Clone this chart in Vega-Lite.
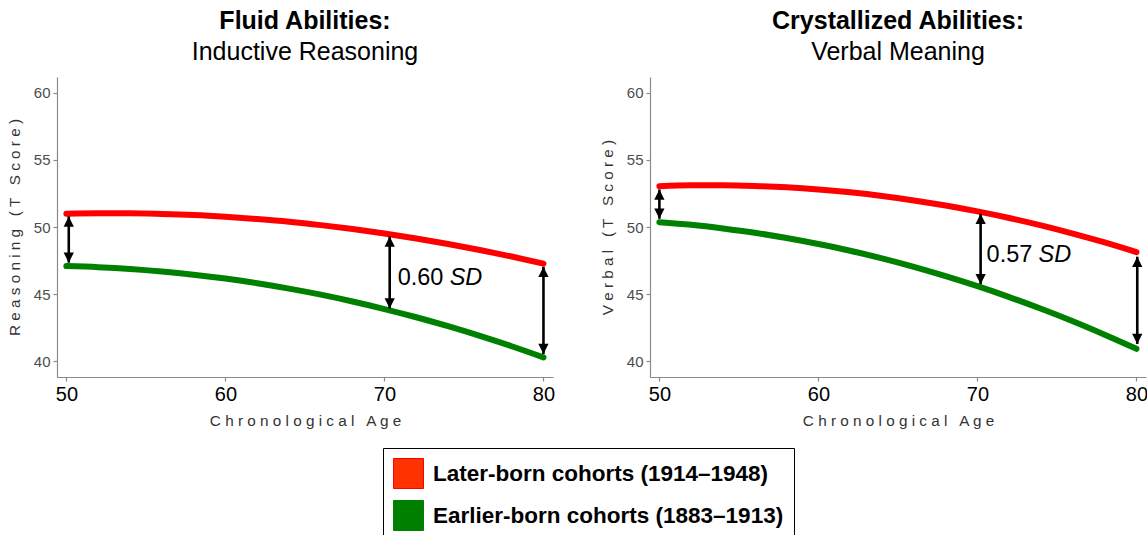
{
  "$schema": "https://vega.github.io/schema/vega-lite/v6.json",
  "background": "white",
  "padding": {"left": 7, "top": 9, "right": 0, "bottom": 0},
  "config": {
    "font": "Liberation Sans",
    "view": {"stroke": null},
    "title": {"font": "Liberation Sans", "fontSize": 25, "fontWeight": "bold", "color": "black", "subtitleFont": "Liberation Sans", "subtitleFontSize": 25, "subtitleColor": "black", "anchor": "middle", "offset": 12, "subtitlePadding": 6},
    "axis": {"grid": false, "domainColor": "#8a8a8a", "tickColor": "#8a8a8a", "tickSize": 4, "domainWidth": 1.2, "tickWidth": 1.2, "labelPadding": 3, "titleFontWeight": "normal", "titleFontSize": 15.3, "titleColor": "#333333", "labelFont": "Liberation Sans", "titleFont": "Liberation Sans"},
    "axisX": {"labelFontSize": 20, "labelColor": "black", "titlePadding": 9},
    "axisY": {"labelFontSize": 15, "labelColor": "#4d4d4d", "titlePadding": 11},
    "legend": {"orient": "none", "legendX": 326, "legendY": 371, "title": null, "symbolType": "square", "symbolSize": 900, "labelFontSize": 22.5, "labelFontWeight": "bold", "labelColor": "black", "labelLimit": 0, "labelOffset": 9, "rowPadding": 7, "padding": 10, "strokeColor": "black", "fillColor": "white", "cornerRadius": 0}
  },
  "datasets": {
    "fluidCurves": [
      {"age": 50, "score": 51.00, "cohort": "Later-born cohorts (1914–1948)"},
      {"age": 52, "score": 51.03, "cohort": "Later-born cohorts (1914–1948)"},
      {"age": 54, "score": 51.03, "cohort": "Later-born cohorts (1914–1948)"},
      {"age": 56, "score": 50.98, "cohort": "Later-born cohorts (1914–1948)"},
      {"age": 58, "score": 50.90, "cohort": "Later-born cohorts (1914–1948)"},
      {"age": 60, "score": 50.77, "cohort": "Later-born cohorts (1914–1948)"},
      {"age": 62, "score": 50.60, "cohort": "Later-born cohorts (1914–1948)"},
      {"age": 64, "score": 50.40, "cohort": "Later-born cohorts (1914–1948)"},
      {"age": 66, "score": 50.15, "cohort": "Later-born cohorts (1914–1948)"},
      {"age": 68, "score": 49.86, "cohort": "Later-born cohorts (1914–1948)"},
      {"age": 70, "score": 49.53, "cohort": "Later-born cohorts (1914–1948)"},
      {"age": 72, "score": 49.16, "cohort": "Later-born cohorts (1914–1948)"},
      {"age": 74, "score": 48.75, "cohort": "Later-born cohorts (1914–1948)"},
      {"age": 76, "score": 48.30, "cohort": "Later-born cohorts (1914–1948)"},
      {"age": 78, "score": 47.81, "cohort": "Later-born cohorts (1914–1948)"},
      {"age": 80, "score": 47.28, "cohort": "Later-born cohorts (1914–1948)"},
      {"age": 50, "score": 47.10, "cohort": "Earlier-born cohorts (1883–1913)"},
      {"age": 52, "score": 47.02, "cohort": "Earlier-born cohorts (1883–1913)"},
      {"age": 54, "score": 46.89, "cohort": "Earlier-born cohorts (1883–1913)"},
      {"age": 56, "score": 46.70, "cohort": "Earlier-born cohorts (1883–1913)"},
      {"age": 58, "score": 46.46, "cohort": "Earlier-born cohorts (1883–1913)"},
      {"age": 60, "score": 46.17, "cohort": "Earlier-born cohorts (1883–1913)"},
      {"age": 62, "score": 45.82, "cohort": "Earlier-born cohorts (1883–1913)"},
      {"age": 64, "score": 45.42, "cohort": "Earlier-born cohorts (1883–1913)"},
      {"age": 66, "score": 44.97, "cohort": "Earlier-born cohorts (1883–1913)"},
      {"age": 68, "score": 44.46, "cohort": "Earlier-born cohorts (1883–1913)"},
      {"age": 70, "score": 43.90, "cohort": "Earlier-born cohorts (1883–1913)"},
      {"age": 72, "score": 43.29, "cohort": "Earlier-born cohorts (1883–1913)"},
      {"age": 74, "score": 42.62, "cohort": "Earlier-born cohorts (1883–1913)"},
      {"age": 76, "score": 41.90, "cohort": "Earlier-born cohorts (1883–1913)"},
      {"age": 78, "score": 41.13, "cohort": "Earlier-born cohorts (1883–1913)"},
      {"age": 80, "score": 40.30, "cohort": "Earlier-born cohorts (1883–1913)"}
    ],
    "verbalCurves": [
      {"age": 50, "score": 53.05, "cohort": "Later-born cohorts (1914–1948)"},
      {"age": 52, "score": 53.11, "cohort": "Later-born cohorts (1914–1948)"},
      {"age": 54, "score": 53.12, "cohort": "Later-born cohorts (1914–1948)"},
      {"age": 56, "score": 53.07, "cohort": "Later-born cohorts (1914–1948)"},
      {"age": 58, "score": 52.97, "cohort": "Later-born cohorts (1914–1948)"},
      {"age": 60, "score": 52.81, "cohort": "Later-born cohorts (1914–1948)"},
      {"age": 62, "score": 52.59, "cohort": "Later-born cohorts (1914–1948)"},
      {"age": 64, "score": 52.32, "cohort": "Later-born cohorts (1914–1948)"},
      {"age": 66, "score": 51.99, "cohort": "Later-born cohorts (1914–1948)"},
      {"age": 68, "score": 51.61, "cohort": "Later-born cohorts (1914–1948)"},
      {"age": 70, "score": 51.17, "cohort": "Later-born cohorts (1914–1948)"},
      {"age": 72, "score": 50.68, "cohort": "Later-born cohorts (1914–1948)"},
      {"age": 74, "score": 50.13, "cohort": "Later-born cohorts (1914–1948)"},
      {"age": 76, "score": 49.52, "cohort": "Later-born cohorts (1914–1948)"},
      {"age": 78, "score": 48.86, "cohort": "Later-born cohorts (1914–1948)"},
      {"age": 80, "score": 48.14, "cohort": "Later-born cohorts (1914–1948)"},
      {"age": 50, "score": 50.37, "cohort": "Earlier-born cohorts (1883–1913)"},
      {"age": 52, "score": 50.17, "cohort": "Earlier-born cohorts (1883–1913)"},
      {"age": 54, "score": 49.90, "cohort": "Earlier-born cohorts (1883–1913)"},
      {"age": 56, "score": 49.58, "cohort": "Earlier-born cohorts (1883–1913)"},
      {"age": 58, "score": 49.19, "cohort": "Earlier-born cohorts (1883–1913)"},
      {"age": 60, "score": 48.74, "cohort": "Earlier-born cohorts (1883–1913)"},
      {"age": 62, "score": 48.24, "cohort": "Earlier-born cohorts (1883–1913)"},
      {"age": 64, "score": 47.67, "cohort": "Earlier-born cohorts (1883–1913)"},
      {"age": 66, "score": 47.04, "cohort": "Earlier-born cohorts (1883–1913)"},
      {"age": 68, "score": 46.35, "cohort": "Earlier-born cohorts (1883–1913)"},
      {"age": 70, "score": 45.60, "cohort": "Earlier-born cohorts (1883–1913)"},
      {"age": 72, "score": 44.79, "cohort": "Earlier-born cohorts (1883–1913)"},
      {"age": 74, "score": 43.92, "cohort": "Earlier-born cohorts (1883–1913)"},
      {"age": 76, "score": 42.99, "cohort": "Earlier-born cohorts (1883–1913)"},
      {"age": 78, "score": 41.99, "cohort": "Earlier-born cohorts (1883–1913)"},
      {"age": 80, "score": 40.94, "cohort": "Earlier-born cohorts (1883–1913)"}
    ],
    "fluidArrows": [
      {"age": 50.15, "top": 50.8, "bottom": 47.35},
      {"age": 70.33, "top": 49.3, "bottom": 43.95},
      {"age": 80.0, "top": 47.05, "bottom": 40.55}
    ],
    "verbalArrows": [
      {"age": 50.0, "top": 52.8, "bottom": 50.62},
      {"age": 70.2, "top": 51.0, "bottom": 45.75},
      {"age": 80.05, "top": 47.8, "bottom": 41.3}
    ],
    "fluidLabel": [{"age": 70.33, "score": 46.24, "value": "0.60", "unit": "SD"}],
    "verbalLabel": [{"age": 70.2, "score": 47.9, "value": "0.57", "unit": "SD"}]
  },
  "resolve": {"scale": {"color": "shared"}, "legend": {"color": "shared"}},
  "spacing": 44,
  "hconcat": [
    {
      "width": 496,
      "height": 300,
      "title": {"text": "Fluid Abilities:", "subtitle": "Inductive Reasoning"},
      "layer": [
        {
          "data": {"name": "fluidCurves"},
          "mark": {"type": "line", "strokeWidth": 6, "strokeCap": "round", "interpolate": "monotone"},
          "encoding": {
            "x": {"field": "age", "type": "quantitative", "scale": {"domain": [49.41, 80.6], "nice": false, "zero": false}, "axis": {"values": [50, 60, 70, 80], "title": "C h r o n o l o g i c a l \u00a0 A g e"}},
            "y": {"field": "score", "type": "quantitative", "scale": {"domain": [38.84, 61.18], "nice": false, "zero": false}, "axis": {"values": [40, 45, 50, 55, 60], "title": "R e a s o n i n g \u00a0 ( T \u00a0 S c o r e )"}},
            "color": {"field": "cohort", "type": "nominal", "sort": null,
              "scale": {"domain": ["Later-born cohorts (1914–1948)", "Earlier-born cohorts (1883–1913)"], "range": ["#ff0000", "#008000"]},
              "legend": {"encode": {"symbols": {"update": {"fill": {"signal": "indexof(datum.value, 'Later') === 0 ? '#ff3300' : '#008000'"}, "fillOpacity": {"value": 1}, "stroke": {"value": "black"}, "strokeWidth": {"value": 1}, "opacity": {"value": 1}}}}}}
          }
        },
        {
          "data": {"name": "fluidArrows"},
          "mark": {"type": "rule", "color": "black", "strokeWidth": 2.6},
          "encoding": {
            "x": {"field": "age", "type": "quantitative"},
            "y": {"field": "top", "type": "quantitative"},
            "y2": {"field": "bottom"}
          }
        },
        {
          "data": {"name": "fluidArrows"},
          "mark": {"type": "point", "shape": "M0,0L-0.5,1L0.5,1Z", "size": 420, "filled": true, "color": "black", "opacity": 1},
          "encoding": {
            "x": {"field": "age", "type": "quantitative"},
            "y": {"field": "top", "type": "quantitative"}
          }
        },
        {
          "data": {"name": "fluidArrows"},
          "mark": {"type": "point", "shape": "M0,0L-0.5,-1L0.5,-1Z", "size": 420, "filled": true, "color": "black", "opacity": 1},
          "encoding": {
            "x": {"field": "age", "type": "quantitative"},
            "y": {"field": "bottom", "type": "quantitative"}
          }
        },
        {
          "data": {"name": "fluidLabel"},
          "mark": {"type": "text", "align": "left", "baseline": "middle", "fontSize": 23.5, "dx": 8, "color": "black"},
          "encoding": {
            "x": {"field": "age", "type": "quantitative"},
            "y": {"field": "score", "type": "quantitative"},
            "text": {"field": "value"}
          }
        },
        {
          "data": {"name": "fluidLabel"},
          "mark": {"type": "text", "align": "left", "baseline": "middle", "fontSize": 23.5, "fontStyle": "italic", "dx": 60, "color": "black"},
          "encoding": {
            "x": {"field": "age", "type": "quantitative"},
            "y": {"field": "score", "type": "quantitative"},
            "text": {"field": "unit"}
          }
        }
      ]
    },
    {
      "width": 496,
      "height": 300,
      "title": {"text": "Crystallized Abilities:", "subtitle": "Verbal Meaning"},
      "layer": [
        {
          "data": {"name": "verbalCurves"},
          "mark": {"type": "line", "strokeWidth": 6, "strokeCap": "round", "interpolate": "monotone"},
          "encoding": {
            "x": {"field": "age", "type": "quantitative", "scale": {"domain": [49.41, 80.6], "nice": false, "zero": false}, "axis": {"values": [50, 60, 70, 80], "title": "C h r o n o l o g i c a l \u00a0 A g e"}},
            "y": {"field": "score", "type": "quantitative", "scale": {"domain": [38.84, 61.18], "nice": false, "zero": false}, "axis": {"values": [40, 45, 50, 55, 60], "title": "V e r b a l \u00a0 ( T \u00a0 S c o r e )"}},
            "color": {"field": "cohort", "type": "nominal", "sort": null,
              "scale": {"domain": ["Later-born cohorts (1914–1948)", "Earlier-born cohorts (1883–1913)"], "range": ["#ff0000", "#008000"]},
              "legend": {"encode": {"symbols": {"update": {"fill": {"signal": "indexof(datum.value, 'Later') === 0 ? '#ff3300' : '#008000'"}, "fillOpacity": {"value": 1}, "stroke": {"value": "black"}, "strokeWidth": {"value": 1}, "opacity": {"value": 1}}}}}}
          }
        },
        {
          "data": {"name": "verbalArrows"},
          "mark": {"type": "rule", "color": "black", "strokeWidth": 2.6},
          "encoding": {
            "x": {"field": "age", "type": "quantitative"},
            "y": {"field": "top", "type": "quantitative"},
            "y2": {"field": "bottom"}
          }
        },
        {
          "data": {"name": "verbalArrows"},
          "mark": {"type": "point", "shape": "M0,0L-0.5,1L0.5,1Z", "size": 420, "filled": true, "color": "black", "opacity": 1},
          "encoding": {
            "x": {"field": "age", "type": "quantitative"},
            "y": {"field": "top", "type": "quantitative"}
          }
        },
        {
          "data": {"name": "verbalArrows"},
          "mark": {"type": "point", "shape": "M0,0L-0.5,-1L0.5,-1Z", "size": 420, "filled": true, "color": "black", "opacity": 1},
          "encoding": {
            "x": {"field": "age", "type": "quantitative"},
            "y": {"field": "bottom", "type": "quantitative"}
          }
        },
        {
          "data": {"name": "verbalLabel"},
          "mark": {"type": "text", "align": "left", "baseline": "middle", "fontSize": 23.5, "dx": 6, "color": "black"},
          "encoding": {
            "x": {"field": "age", "type": "quantitative"},
            "y": {"field": "score", "type": "quantitative"},
            "text": {"field": "value"}
          }
        },
        {
          "data": {"name": "verbalLabel"},
          "mark": {"type": "text", "align": "left", "baseline": "middle", "fontSize": 23.5, "fontStyle": "italic", "dx": 58, "color": "black"},
          "encoding": {
            "x": {"field": "age", "type": "quantitative"},
            "y": {"field": "score", "type": "quantitative"},
            "text": {"field": "unit"}
          }
        }
      ]
    }
  ]
}
